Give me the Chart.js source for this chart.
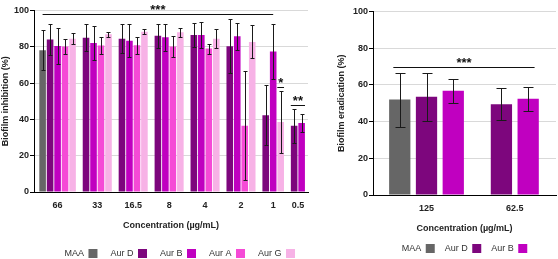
<!DOCTYPE html>
<html>
<head>
<meta charset="utf-8">
<script src="https://cdn.jsdelivr.net/npm/chart.js@4.4.1/dist/chart.umd.min.js"></script>
<style>
  html, body { margin: 0; padding: 0; background: #fff; overflow: hidden; }
  #left { position: absolute; left: 0; top: 0; width: 320px; height: 259px; }
  #right { position: absolute; left: 336px; top: 0; width: 222px; height: 259px; }
</style>
</head>
<body>
<div id="left"><canvas id="inhibition"></canvas></div>
<div id="right"><canvas id="eradication"></canvas></div>
<script>
// series shared by both panels
const seriesNames = ['MAA', 'Aur D', 'Aur B', 'Aur A', 'Aur G'];
const seriesColors = ['#666666', '#7d067d', '#c000c0', '#f54ad6', '#f7b2e6'];

// biofilm inhibition (%), mean and error
const concInhibition = ['66', '33', '16.5', '8', '4', '2', '1', '0.5'];
const maaInh     = [78.1, null, null, null, null, null, null, null];
const maaInhErr  = [11, null, null, null, null, null, null, null];
const aurDInh    = [84, 85, 84.5, 86.1, 86.5, 80.3, 42.3, 36.5];
const aurDInhErr = [8.5, 7.3, 8, 6.7, 6.8, 15, 16.5, 9.3];
const aurBInh    = [80.5, 82.1, 83.4, 85.2, 86.5, 85.8, 77.4, 38];
const aurBInhErr = [10, 9.3, 9, 7.4, 6.9, 7.3, 15, 4.9];
const aurAInh    = [80.1, 80.7, 80.8, 80.1, 79, 36.5, null, null];
const aurAInhErr = [4.3, 4.6, 4.8, 5.8, 2.7, 30, null, null];
const aurGInh    = [84.5, 86.9, 88.3, 88, 84.5, 82.7, 38.5, null];
const aurGInhErr = [3, 1.5, 1.3, 2.6, 5.4, 9.1, 17, null];

// biofilm eradication (%)
const concEradication = ['125', '62.5'];
const maaErad     = [52, null];
const maaEradErr  = [14.7, null];
const aurDErad    = [53.5, 49.5];
const aurDEradErr = [13.2, 8.6];
const aurBErad    = [56.8, 52.4];
const aurBEradErr = [6.6, 6.6];

// significance bars: [group, series] ends, height in %
const sigInhibition = [
  { text: '***', from: [0, 0], to: [6, 2], y: 98.2, ext: 0 },
  { text: '*', from: [6, 4], to: [6, 4], y: 57.8, ext: 0.45 },
  { text: '**', from: [7, 1], to: [7, 2], y: 47.8, ext: 0.45 }
];
const sigEradication = [
  { text: '***', from: [0, 0], to: [1, 2], y: 70, ext: 0.24 }
];

Chart.defaults.font.family = "'Liberation Sans', Arial, sans-serif";
Chart.defaults.color = '#222';

// bars sit side by side inside a group, missing series leave no hole
function layoutGroups(values, gap) {
  const xs = values.map(() => []);
  const centres = [];
  let pos = 0;
  for (let g = 0; g < values[0].length; g++) {
    const start = pos;
    let last = pos;
    values.forEach((vals, s) => {
      if (vals[g] == null) { xs[s].push(null); return; }
      xs[s].push(pos);
      last = pos;
      pos += 1;
    });
    centres.push((start + last) / 2);
    pos = last + 1 + gap;
  }
  return { xs, centres };
}

const errorBars = {
  id: 'errorBars',
  afterDatasetsDraw(chart, args, opts) {
    const { ctx } = chart;
    const yScale = chart.scales.y;
    ctx.save();
    ctx.strokeStyle = '#1a1a1a';
    ctx.lineWidth = 1;
    chart.data.datasets.forEach((ds, i) => {
      const meta = chart.getDatasetMeta(i);
      meta.data.forEach((bar, j) => {
        const p = ds.data[j];
        if (!p || p.err == null) return;
        const top = Math.round(yScale.getPixelForValue(p.y + p.err)) + 0.5;
        const bot = Math.round(yScale.getPixelForValue(p.y - p.err)) + 0.5;
        const x = Math.round(bar.x) + 0.5;
        ctx.beginPath();
        ctx.moveTo(x, top); ctx.lineTo(x, bot);
        ctx.moveTo(x - opts.cap, top); ctx.lineTo(x + opts.cap, top);
        ctx.moveTo(x - opts.cap, bot); ctx.lineTo(x + opts.cap, bot);
        ctx.stroke();
      });
    });
    ctx.restore();
  }
};

const sigMarks = {
  id: 'sigMarks',
  afterDatasetsDraw(chart, args, opts) {
    const { ctx } = chart;
    const xScale = chart.scales.x;
    const yScale = chart.scales.y;
    ctx.save();
    ctx.strokeStyle = '#111';
    ctx.fillStyle = '#111';
    ctx.lineWidth = 1;
    ctx.font = "bold 13px 'Liberation Sans', Arial, sans-serif";
    ctx.textAlign = 'center';
    ctx.textBaseline = 'alphabetic';
    opts.marks.forEach(m => {
      const x0 = xScale.getPixelForValue(opts.xs[m.from[1]][m.from[0]] - m.ext);
      const x1 = xScale.getPixelForValue(opts.xs[m.to[1]][m.to[0]] + m.ext);
      const y = Math.round(yScale.getPixelForValue(m.y)) + 0.5;
      ctx.beginPath();
      ctx.moveTo(x0, y); ctx.lineTo(x1, y);
      ctx.stroke();
      ctx.fillText(m.text, (x0 + x1) / 2, y - 1);
    });
    ctx.restore();
  }
};

function makeChart(id, p) {
  const { xs, centres } = layoutGroups(p.values, p.gap);
  const datasets = [];
  p.values.forEach((vals, s) => {
    datasets.push({
      label: seriesNames[s],
      backgroundColor: seriesColors[s],
      borderWidth: 0,
      grouped: false,
      barPercentage: p.barPct,
      categoryPercentage: 1,
      data: vals.map((v, g) => v == null ? null : { x: xs[s][g], y: v, err: p.errors[s][g] })
                .filter(d => d !== null)
    });
  });
  const all = xs.flat().filter(v => v !== null);
  return new Chart(document.getElementById(id), {
    type: 'bar',
    data: { datasets },
    plugins: [errorBars, sigMarks],
    options: {
      responsive: true,
      maintainAspectRatio: false,
      animation: false,
      layout: { padding: p.padding },
      scales: {
        x: {
          type: 'linear',
          offset: false,
          min: Math.min(...all) - p.padMin,
          max: Math.max(...all) + p.padMax,
          afterBuildTicks: ax => { ax.ticks = centres.map(v => ({ value: v })); },
          afterFit: ax => { ax.height = p.xHeight; },
          ticks: {
            autoSkip: false, maxRotation: 0, padding: 8,
            font: { size: 9, weight: 'bold' },
            callback: (v, i) => p.labels[i]
          },
          grid: { display: false, drawTicks: false },
          border: { color: '#000', width: 1 },
          title: {
            display: true, text: 'Concentration (µg/mL)',
            font: { size: 9, weight: 'bold' }, padding: { top: 0, bottom: p.titlePad }
          }
        },
        y: {
          min: 0, max: 100,
          afterFit: ax => { ax.width = p.yWidth; },
          ticks: { stepSize: 20, padding: 1, font: { size: 9, weight: 'bold' } },
          grid: { color: '#d9d9d9', tickColor: '#000', tickLength: 4 },
          border: { color: '#000', width: 1 },
          title: {
            display: true, text: p.yTitle,
            font: { size: 9, weight: 'bold' }, padding: 0
          }
        }
      },
      plugins: {
        tooltip: { enabled: false },
        legend: {
          position: 'bottom',
          fullSize: false,
          align: p.legendAlign,
          rtl: true,
          reverse: true,
          labels: { boxWidth: 9, boxHeight: 9, padding: p.legendPad, font: { size: 9 }, color: '#333' }
        },
        errorBars: { cap: p.cap },
        sigMarks: { marks: p.marks, xs }
      }
    }
  });
}

makeChart('inhibition', {
  values: [maaInh, aurDInh, aurBInh, aurAInh, aurGInh],
  errors: [maaInhErr, aurDInhErr, aurBInhErr, aurAInhErr, aurGInhErr],
  labels: concInhibition,
  marks: sigInhibition,
  yTitle: 'Biofilm inhibition (%)',
  gap: 0.8, barPct: 0.88, padMin: 1.15, padMax: 0.85,
  padding: { top: 10.5, right: 12, bottom: -9, left: 0 },
  xHeight: 44, yWidth: 34, titlePad: 5, cap: 2, legendAlign: 'start', legendPad: 13
});

makeChart('eradication', {
  values: [maaErad, aurDErad, aurBErad],
  errors: [maaEradErr, aurDEradErr, aurBEradErr],
  labels: concEradication,
  marks: sigEradication,
  yTitle: 'Biofilm eradication (%)',
  gap: 0.8, barPct: 0.795, padMin: 1.0, padMax: 1.04,
  padding: { top: 11.5, right: 2, bottom: -4, left: 0 },
  xHeight: 39, yWidth: 37, titlePad: 0, cap: 5, legendAlign: 'center', legendPad: 10
});
</script>
</body>
</html>
